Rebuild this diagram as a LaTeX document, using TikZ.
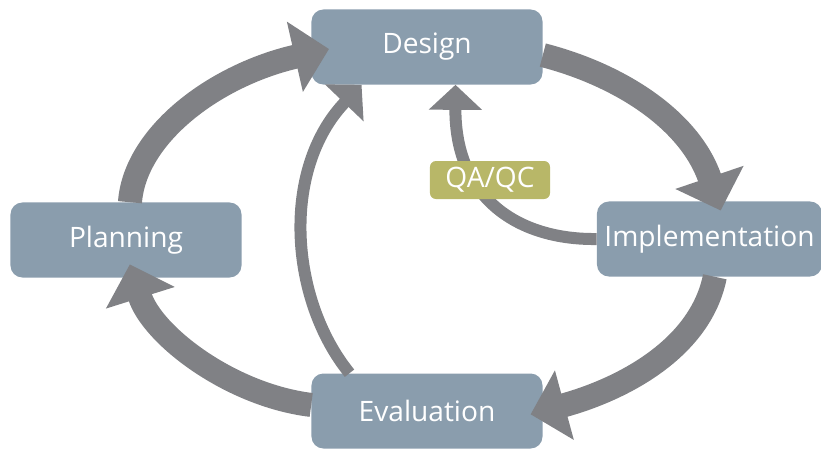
\documentclass[tikz,border=0pt]{standalone}
\usepackage{fontspec}
\setmainfont{Open Sans}
\usepackage{xcolor}
\usepackage{tikz}
\usetikzlibrary{
  arrows.meta,
}
\definecolor{boxblue}{HTML}{8A9DAD}
\definecolor{arrowgray}{HTML}{808185}
\definecolor{qaolive}{HTML}{B8B768}
\tikzset{
  stage/.style={
    fill=boxblue,
    text=white,
    rounded corners=0.3cm,
    minimum width=5.775cm,
    minimum height=1.875cm,
    inner sep=0pt
  },
  check box/.style={
    fill=qaolive,
    text=white,
    rounded corners=0.15cm,
    minimum width=3cm,
    minimum height=0.95cm,
    inner sep=0pt
  },
  big arrow/.style={
    draw=arrowgray,
    line width=0.6cm,
    -{Triangle[length=0.875cm,width=1.75cm]}
  },
  small arrow/.style={
    draw=arrowgray,
    line width=0.3cm,
    -{Triangle[length=0.625cm,width=1.3cm]}
  }
}

\begin{document}
\begin{tikzpicture}[x=0.025cm, y=-0.025cm, font=\fontsize{20}{24}\selectfont]
  \useasboundingbox (0,0) rectangle (821,449);

  \node[stage] (design)   at (427,47)  {Design};
  \node[stage] (planning) at (126,240) {Planning};
  \node[stage, minimum width=5.625cm] (impl) at (709.5,239) {Implementation};
  \node[stage] (eval)     at (427,411) {Evaluation};

  % main cycle
  \draw[big arrow, shorten >=-13pt] (planning.84) .. controls (135,135) and (215,75) .. (design.183);
  \draw[big arrow, shorten >=-7pt]  (design.-4) .. controls (620,75) and (690,120) .. (impl.78);
  \draw[big arrow, shorten >=-9pt]  (impl.-82) .. controls (700,350) and (620,390) .. (eval.east);
  \draw[big arrow, shorten >=-10pt] (eval.177) .. controls (230,395) and (152,335) .. (planning.-78);

  % feedback
  \draw[small arrow] (eval.154) .. controls (290,300) and (280,170) .. (design.210);
  \draw[small arrow] (impl.west) .. controls (520,240) and (455,200) .. (design.-53);

  \node[check box] (qa) at (490,180) {QA/QC};
\end{tikzpicture}
\end{document}
